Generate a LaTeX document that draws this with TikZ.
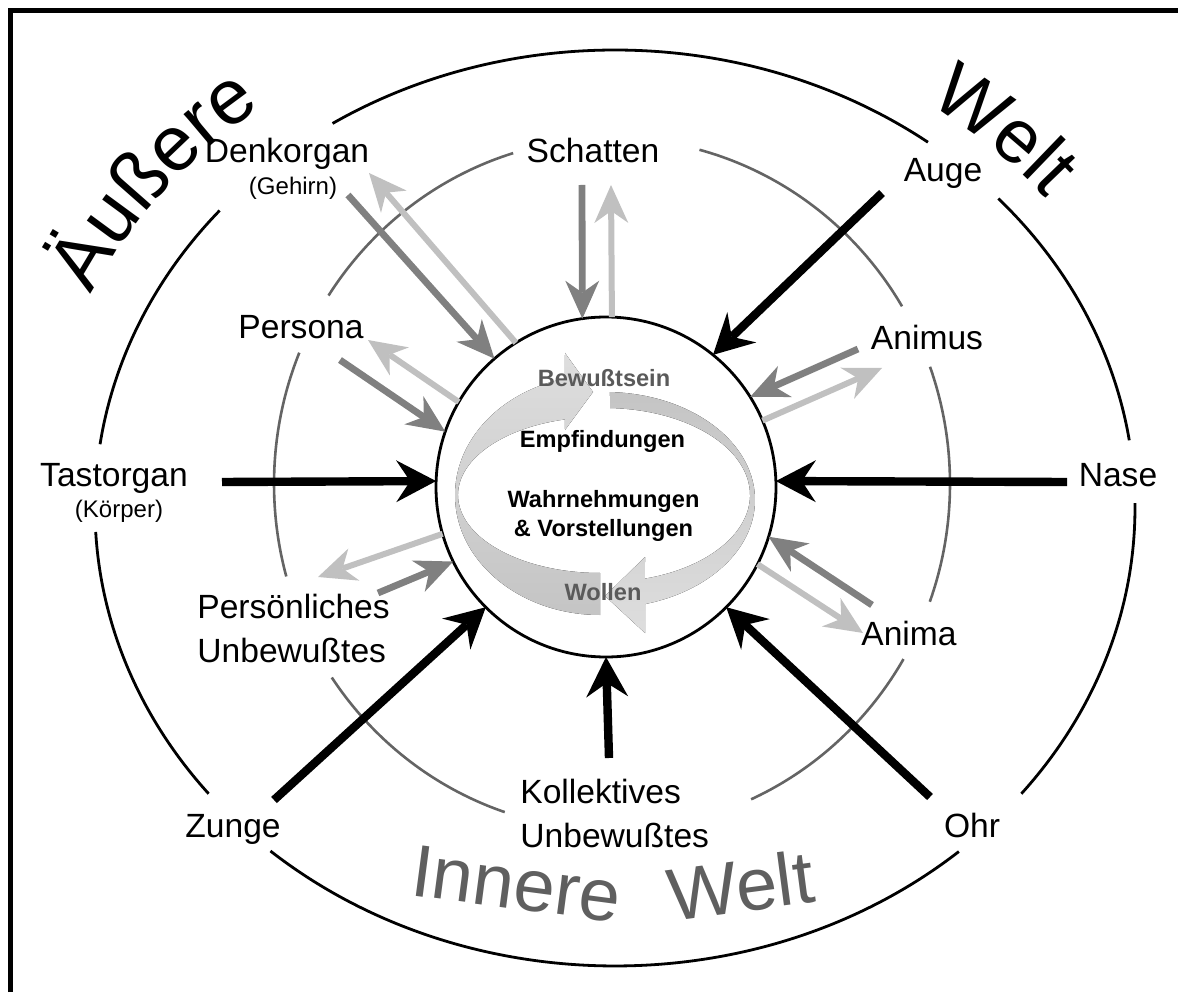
\documentclass[tikz,border=0pt]{standalone}
\usepackage{fontspec}
\setmainfont{Liberation Sans}
\usetikzlibrary{arrows.meta,decorations.text}
\definecolor{ringgray}{RGB}{100,100,100}
\definecolor{ingray}{RGB}{128,128,128}
\definecolor{outgray}{RGB}{192,192,192}
\definecolor{wordgray}{RGB}{95,95,95}
\definecolor{mindgray}{RGB}{90,90,90}

\begin{document}
\begin{tikzpicture}[
    x=0.5pt,y=0.5pt,
    organ/.style={font=\fontsize{16.8}{22}\selectfont,anchor=base,inner sep=0pt},
    note/.style={font=\fontsize{12}{14}\selectfont,anchor=base,inner sep=0pt},
    mind/.style={font=\fontsize{11.8}{14.5}\selectfont\bfseries,anchor=base,inner sep=0pt},
    sense/.style={-{Stealth[length=20pt,width=21pt,inset=7pt,line width=0pt]},line width=4.2pt},
    inflow/.style={-{Stealth[length=19pt,width=17pt,inset=6pt,line width=0pt]},line width=3.4pt,ingray},
    outflow/.style={-{Stealth[length=19pt,width=17pt,inset=6pt,line width=0pt]},line width=3pt,outgray},
    ring/.style={line width=1.4pt},
    midring/.style={line width=1.3pt,ringgray},
    world/.style={decorate,decoration={text along path,text align=center}}
]
\useasboundingbox (0,0) rectangle (1178,992);
\draw[line width=2.3pt] (10.5,0) -- (10.5,981.5) -- (1178,981.5);

\draw[ring] (615,484) ++(53:520 and 458) arc[start angle=53,end angle=122.9,x radius=520,y radius=458];
\draw[ring] (615,484) ++(139.5:520 and 458) arc[start angle=139.5,end angle=172,x radius=520,y radius=458];
\draw[ring] (615,484) ++(183:520 and 458) arc[start angle=183,end angle=218.6,x radius=520,y radius=458];
\draw[ring] (615,484) ++(228.5:520 and 458) arc[start angle=228.5,end angle=311.4,x radius=520,y radius=458];
\draw[ring] (615,484) ++(321.4:520 and 458) arc[start angle=321.4,end angle=360.6,x radius=520,y radius=458];
\draw[ring] (615,484) ++(8.5:520 and 458) arc[start angle=8.5,end angle=42.5,x radius=520,y radius=458];

\draw[midring] (612,508) ++(107:338 and 346) arc[start angle=107,end angle=147,x radius=338,y radius=346];
\draw[midring] (612,508) ++(157.7:338 and 346) arc[start angle=157.7,end angle=195.5,x radius=338,y radius=346];
\draw[midring] (612,508) ++(214:338 and 346) arc[start angle=214,end angle=251.5,x radius=338,y radius=346];
\draw[midring] (612,508) ++(294.3:338 and 346) arc[start angle=294.3,end angle=329.6,x radius=338,y radius=346];
\draw[midring] (612,508) ++(-19.9:338 and 346) arc[start angle=-19.9,end angle=19.8,x radius=338,y radius=346];
\draw[midring] (612,508) ++(30.9:338 and 346) arc[start angle=30.9,end angle=75,x radius=338,y radius=346];

\node[circle,draw,line width=1.4pt,minimum size=170pt,inner sep=0pt,outer sep=0pt] (psyche) at (606,505) {};

\fill[top color=gray!26,bottom color=gray!46] (600,497) ++(270:145 and 120)
    arc[start angle=270,end angle=104,x radius=145,y radius=120]
    -- (565,639) -- (593,600) -- (565,562)
    -- ([shift={(600,497)}]104.3:142 and 78)
    arc[start angle=104.3,end angle=270,x radius=142,y radius=78] -- cycle;
\fill[top color=gray!46,bottom color=gray!26] (605,492) ++(88.1:150 and 108)
    arc[start angle=88.1,end angle=-74.5,x radius=150,y radius=108]
    -- (645,359) -- (605,396) -- (645,435)
    -- ([shift={(605,497)}]-74:145 and 87)
    arc[start angle=-74,end angle=88,x radius=145,y radius=87] -- cycle;

\node[mind,text=mindgray] (bewusst) at (604,605) {Bewußtsein};
\node[mind] (empf) at (602.5,544) {Empfindungen};
\node[mind,anchor=center,align=center] (wahr) at (603.5,476) {Wahrnehmungen\\\& Vorstellungen};
\node[mind,text=mindgray] (wollen) at (603,392) {Wollen};

\node[organ] (denk) at (287,829) {Denkorgan};
\node[note] (gehirn) at (293,797) {(Gehirn)};
\node[organ] (schatten) at (593,829) {Schatten};
\node[organ] (auge) at (943,810) {Auge};
\node[organ] (persona) at (301,653) {Persona};
\node[organ] (animus) at (927,642) {Animus};
\node[organ] (tast) at (114,505) {Tastorgan};
\node[note] (koerper) at (119,474) {(Körper)};
\node[organ] (nase) at (1118,505) {Nase};
\node[organ,anchor=west,align=left] (persunb) at (197,364) {Persönliches\\Unbewußtes};
\node[organ] (anima) at (909,347) {Anima};
\node[organ] (zunge) at (233,155) {Zunge};
\node[organ,anchor=west,align=left] (kollunb) at (520,179) {Kollektives\\Unbewußtes};
\node[organ] (ohr) at (972,155) {Ohr};

\coordinate (augeS) at (882,799);
\coordinate (tastS) at (222,510);
\coordinate (naseS) at (1067,510);
\coordinate (zungeS) at (274,192);
\coordinate (kollS) at (609,234);
\coordinate (ohrS) at (930,195);
\draw[sense] (augeS) -- (psyche.51);
\draw[sense] (tastS) -- (psyche.178);
\draw[sense] (naseS) -- (psyche.2);
\draw[sense] (zungeS) -- (psyche.225);
\draw[sense] (kollS) -- (psyche.270);
\draw[sense] (ohrS) -- (psyche.315);

\coordinate (denkIn) at (348,797);
\coordinate (schattenIn) at (582,807);
\coordinate (personaIn) at (340,632);
\coordinate (animusIn) at (858,643);
\coordinate (persIn) at (378,399);
\coordinate (animaIn) at (872,387);
\draw[inflow] (denkIn) -- (psyche.131);
\draw[inflow] (schattenIn) -- (psyche.98);
\draw[inflow] (personaIn) -- (psyche.161);
\draw[inflow] (animusIn) -- (psyche.32);
\draw[inflow] (persIn) -- (psyche.206);
\draw[inflow] (animaIn) -- (psyche.343);

\coordinate (denkOut) at (369,819);
\coordinate (schattenOut) at (611,807);
\coordinate (personaOut) at (368,652);
\coordinate (animusOut) at (882,624);
\coordinate (persOut) at (318,415);
\coordinate (animaOut) at (863,359);
\draw[outflow] (psyche.122) -- (denkOut);
\draw[outflow] (psyche.88) -- (schattenOut);
\draw[outflow] (psyche.150) -- (personaOut);
\draw[outflow] (psyche.23) -- (animusOut);
\draw[outflow] (psyche.196) -- (persOut);
\draw[outflow] (psyche.333) -- (animaOut);

\path[world,decoration={text={|\fontsize{39}{39}\selectfont|Äußere}}] (615,484) ++(168:577 and 508)
    arc[start angle=168,end angle=116,x radius=577,y radius=508];
\path[world,decoration={text={|\fontsize{38}{38}\selectfont|Welt}}] (615,484) ++(79:556 and 490)
    arc[start angle=79,end angle=14,x radius=556,y radius=490];
\node[font=\fontsize{37}{37}\selectfont,text=wordgray,anchor=base west,rotate=-7.5,inner sep=0pt] (innere) at (409,97) {Innere};
\node[font=\fontsize{37}{37}\selectfont,text=wordgray,anchor=base east,rotate=7.5,inner sep=0pt] (welt) at (817,90) {Welt};
\end{tikzpicture}
\end{document}
